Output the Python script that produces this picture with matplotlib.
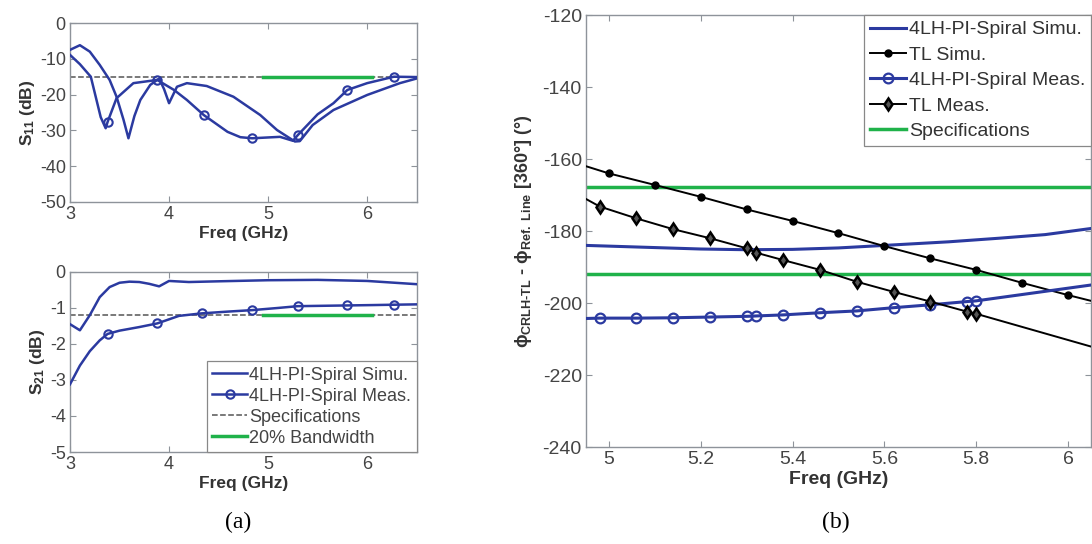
import numpy as np
import matplotlib
matplotlib.use("Agg")
import matplotlib.pyplot as plt

plt.rcParams['font.family'] = ['Liberation Sans', 'DejaVu Sans']
plt.rcParams['axes.unicode_minus'] = False
plt.rcParams['mathtext.fontset'] = 'custom'
plt.rcParams['mathtext.rm'] = 'Liberation Sans:bold'
plt.rcParams['mathtext.bf'] = 'Liberation Sans:bold'
plt.rcParams['mathtext.it'] = 'Liberation Sans:bold'

# DATA
# S11 (dB)
f_s11_sim = [3.0, 3.1, 3.2, 3.3, 3.4, 3.47, 3.54, 3.59, 3.65, 3.71, 3.81, 3.9, 3.95, 4.0, 4.08,
             4.18, 4.38, 4.65, 4.92, 5.09, 5.27, 5.32, 5.45, 5.66, 6.0, 6.33, 6.5]
s11_sim = [-7.5, -6.2, -8.0, -11.7, -15.9, -20.6, -27.0, -32.2, -26.0, -21.5, -17.3, -15.5, -18.5,
           -22.4, -17.8, -16.8, -17.6, -20.6, -25.7, -29.9, -33.1, -33.0, -28.5, -24.3, -20.1, -16.8, -15.5]
f_s11_meas = [3.0, 3.1, 3.21, 3.31, 3.36, 3.38, 3.47, 3.64, 3.88, 4.05, 4.18, 4.35, 4.59, 4.72,
              4.84, 5.12, 5.25, 5.3, 5.5, 5.66, 5.8, 6.0, 6.27, 6.5]
s11_meas = [-8.9, -11.5, -15.0, -26.3, -29.4, -27.6, -21.0, -16.8, -15.9, -18.7, -21.5, -25.7, -30.4,
            -31.9, -32.2, -31.8, -32.9, -31.3, -25.5, -22.4, -18.7, -16.8, -15.0, -15.1]
s11_meas_marks = [5, 8, 11, 14, 17, 20, 22]
s11_spec = -15

# S21 (dB)
f_s21_sim = [3.0, 3.1, 3.2, 3.3, 3.4, 3.5, 3.6, 3.7, 3.8, 3.9, 4.0, 4.2, 4.5, 5.0, 5.5, 6.0, 6.5]
s21_sim = [-1.45, -1.62, -1.2, -0.7, -0.42, -0.3, -0.27, -0.28, -0.33, -0.4, -0.25, -0.28, -0.26,
           -0.23, -0.22, -0.25, -0.34]
f_s21_meas = [3.0, 3.1, 3.2, 3.3, 3.38, 3.5, 3.7, 3.88, 4.1, 4.33, 4.6, 4.84, 5.1, 5.3, 5.55, 5.8,
              6.05, 6.27, 6.5]
s21_meas = [-3.12, -2.6, -2.2, -1.9, -1.72, -1.63, -1.53, -1.43, -1.22, -1.15, -1.1, -1.06, -1.0,
            -0.95, -0.94, -0.93, -0.92, -0.91, -0.9]
s21_meas_marks = [4, 7, 9, 11, 13, 15, 17]
s21_spec = -1.2

band = [4.95, 6.05]

# Phase difference (deg)
f_tl_sim = [4.95, 5.0, 5.1, 5.2, 5.3, 5.4, 5.5, 5.6, 5.7, 5.8, 5.9, 6.0, 6.05]
ph_tl_sim = [-162.0, -164.0, -167.2, -170.5, -174.0, -177.2, -180.6, -184.2, -187.6, -190.8, -194.4,
             -197.8, -199.4]
f_meas = [4.95, 4.98, 5.06, 5.14, 5.22, 5.30, 5.32, 5.38, 5.46, 5.54, 5.62, 5.70, 5.78, 5.80, 6.05]
ph_tl_meas = [-171.1, -173.2, -176.5, -179.5, -182.0, -184.8, -186.0, -188.1, -190.8, -194.1, -196.9,
              -199.6, -202.4, -203.0, -212.1]
ph_crlh_meas = [-204.3, -204.2, -204.2, -204.1, -203.9, -203.7, -203.6, -203.3, -202.7, -202.2,
                -201.3, -200.5, -199.6, -199.4, -195.0]
f_crlh_sim = [4.95, 5.1, 5.2, 5.3, 5.4, 5.5, 5.6, 5.74, 5.85, 5.95, 6.05]
ph_crlh_sim = [-184.0, -184.6, -185.0, -185.2, -185.1, -184.7, -184.0, -183.0, -182.0, -181.0, -179.3]
ph_spec = [-167.7, -191.9]

blue = '#2b3aa0'
green = '#1fb24a'
spine_c = '#8e939a'
tick_c = '#444444'


def style(ax, size):
    for s in ax.spines.values():
        s.set_color(spine_c)
        s.set_linewidth(1.0)
    ax.tick_params(direction='in', top=True, right=True, colors=spine_c,
                   labelcolor=tick_c, labelsize=size, length=4, pad=3)


fig = plt.figure(figsize=(10.92, 5.44), dpi=100)

# (a) top: S11
ax1 = fig.add_axes([0.0641, 0.6287, 0.3175, 0.329])
ax1.plot(band, [s11_spec, s11_spec], color=green, lw=2.5, zorder=2)
ax1.plot([3, 6.5], [s11_spec, s11_spec], '--', color='#555555', lw=1.1, zorder=1)
ax1.plot(f_s11_sim, s11_sim, '-', color=blue, lw=1.8, zorder=3)
ax1.plot(f_s11_meas, s11_meas, '-o', color=blue, lw=1.8, ms=6, mfc='none', mew=1.5,
         markevery=s11_meas_marks, zorder=3)
ax1.set_xlim(3, 6.5)
ax1.set_ylim(-50, 0)
ax1.set_xticks([3, 4, 5, 6])
ax1.set_yticks([0, -10, -20, -30, -40, -50])
ax1.set_xlabel('Freq (GHz)', fontsize=12.5, fontweight='bold', color='#333333', labelpad=2)
ax1.set_ylabel(r'S$_{11}$ (dB)', fontsize=12.5, fontweight='bold', color='#333333', labelpad=2)
style(ax1, 13)

# (a) bottom: S21
ax2 = fig.add_axes([0.0641, 0.1691, 0.3175, 0.331])
l_sim, = ax2.plot(f_s21_sim, s21_sim, '-', color=blue, lw=1.8, zorder=3)
l_meas, = ax2.plot(f_s21_meas, s21_meas, '-o', color=blue, lw=1.8, ms=6, mfc='none', mew=1.5,
                   markevery=s21_meas_marks, zorder=3)
l_spec, = ax2.plot([3, 6.5], [s21_spec, s21_spec], '--', color='#555555', lw=1.1, zorder=1)
l_band, = ax2.plot(band, [s21_spec, s21_spec], color=green, lw=2.5, zorder=2)
ax2.set_xlim(3, 6.5)
ax2.set_ylim(-5, 0)
ax2.set_xticks([3, 4, 5, 6])
ax2.set_yticks([0, -1, -2, -3, -4, -5])
ax2.set_xlabel('Freq (GHz)', fontsize=12.5, fontweight='bold', color='#333333', labelpad=2)
ax2.set_ylabel(r'S$_{21}$ (dB)', fontsize=12.5, fontweight='bold', color='#333333', labelpad=2)
style(ax2, 13)
leg = ax2.legend([l_sim, l_meas, l_spec, l_band],
                 ['4LH-PI-Spiral Simu.', '4LH-PI-Spiral Meas.', 'Specifications', '20% Bandwidth'],
                 loc='lower right', borderaxespad=0, fontsize=13, handlelength=1.9,
                 handletextpad=0.15, labelspacing=0.22, borderpad=0.3, fancybox=False,
                 framealpha=1, edgecolor='#888888', labelcolor='#444444')
leg.get_frame().set_linewidth(0.9)

# (b) phase
ax3 = fig.add_axes([0.5366, 0.1783, 0.4625, 0.7941])
r1, = ax3.plot(f_crlh_sim, ph_crlh_sim, '-', color=blue, lw=2.2, zorder=3)
r2, = ax3.plot(f_tl_sim, ph_tl_sim, '-o', color='black', lw=1.4, ms=5, mfc='black',
               markevery=list(range(1, len(f_tl_sim) - 1)), zorder=3)
r3, = ax3.plot(f_meas, ph_crlh_meas, '-o', color=blue, lw=2.2, ms=7, mfc='none', mew=1.6,
               markevery=list(range(1, len(f_meas) - 1)), zorder=3)
r4, = ax3.plot(f_meas, ph_tl_meas, '-d', color='black', lw=1.4, ms=6.5, mfc='#555555', mew=1.8,
               markevery=list(range(1, len(f_meas) - 1)), zorder=3)
for p in ph_spec:
    r5, = ax3.plot(band, [p, p], color=green, lw=2.5, zorder=2)
ax3.set_xlim(4.95, 6.05)
ax3.set_ylim(-240, -120)
ax3.set_xticks([5, 5.2, 5.4, 5.6, 5.8, 6])
ax3.set_xticklabels(['5', '5.2', '5.4', '5.6', '5.8', '6'])
ax3.set_yticks(np.arange(-240, -119, 20))
ax3.set_xlabel('Freq (GHz)', fontsize=14, fontweight='bold', color='#333333', labelpad=2)
ax3.set_ylabel(r'$\phi_{CRLH\text{-}TL}$ - $\phi_{Ref.\ Line}$ [360°] (°)', fontsize=13,
               fontweight='bold', color='#333333', labelpad=6)
style(ax3, 14)
leg3 = ax3.legend([r1, r2, r3, r4, r5],
                  ['4LH-PI-Spiral Simu.', 'TL Simu.', '4LH-PI-Spiral Meas.', 'TL Meas.',
                   'Specifications'],
                  loc='upper right', borderaxespad=0, fontsize=14, handlelength=1.9,
                  handletextpad=0.12, labelspacing=0.4, borderpad=0.3, fancybox=False,
                  framealpha=1, edgecolor='#888888', labelcolor='#333333')
leg3.get_frame().set_linewidth(0.9)

fig.text(238 / 1092, 1 - 522 / 544, '(a)', family='Liberation Serif', fontsize=17,
         ha='center', va='center')
fig.text(836 / 1092, 1 - 522 / 544, '(b)', family='Liberation Serif', fontsize=17,
         ha='center', va='center')

fig.savefig('out.png', dpi=100)
